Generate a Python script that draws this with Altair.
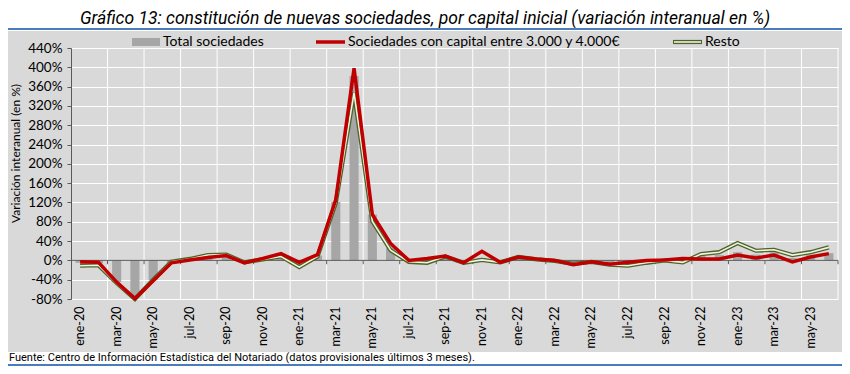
import altair as alt
import pandas as pd

# ---------------- data ----------------
meses = [
    "ene-20", "feb-20", "mar-20", "abr-20", "may-20", "jun-20", "jul-20", "ago-20", "sep-20", "oct-20", "nov-20", "dic-20",
    "ene-21", "feb-21", "mar-21", "abr-21", "may-21", "jun-21", "jul-21", "ago-21", "sep-21", "oct-21", "nov-21", "dic-21",
    "ene-22", "feb-22", "mar-22", "abr-22", "may-22", "jun-22", "jul-22", "ago-22", "sep-22", "oct-22", "nov-22", "dic-22",
    "ene-23", "feb-23", "mar-23", "abr-23", "may-23", "jun-23",
]
total = [
    -5, -6, -45, -75, -41, -5, 2, 9, 11, -5, 4, 10,
    -8, 10, 121, 382, 95, 27, -1, 0, 9, -5, 5, -4,
    7, 2, -1, -8, -3, -8, -8, -3, 0, -2, 9, 11,
    17, 12, 17, 5, 12, 15,
]
capital = [
    -3, -4, -45, -79, -42, -5, 1, 6, 10, -5, 4, 14,
    -4, 12, 126, 398, 95, 35, 0, 4, 9, -5, 19, -4,
    7, 3, 0, -9, -3, -8, -4, 0, 1, 4, 3, 3,
    11, 5, 11, -3, 7, 14,
]
resto = [
    -11, -10, -47, -80, -40, -3, 3, 11, 12, -4, 2, 8,
    -14, 8, 119, 347, 81, 21, -3, -5, 8, -5, 1, -4,
    7, 2, -1, -7, -3, -9, -11, -5, 0, -4, 13, 17,
    36, 20, 22, 11, 17, 27,
]
etiquetas_x = meses[::2]
limites_x = meses[2::2]
ticks_y = list(range(-80, 441, 40))
leyenda = ["Total sociedades", "Sociedades con capital entre 3.000 y 4.000\u20ac", "Resto"]
titulo = "Gr\u00e1fico 13: constituci\u00f3n de nuevas sociedades, por capital inicial (variaci\u00f3n interanual en %)"
fuente = "Fuente: Centro de Informaci\u00f3n Estad\u00edstica del Notariado (datos provisionales \u00faltimos 3 meses)."
titulo_y = "Variaci\u00f3n interanual (en %)"

# ---------------- layout ----------------
W, H = 767, 251
STEP = W / len(meses)
FONT = "Lato"
NARROW = "Roboto"
GRAY_BG = "#d9d9d9"
BLUE = "#4a7ebb"

df = pd.DataFrame({"mes": meses, "total": total, "capital": capital, "resto": resto})
lim = pd.DataFrame({"mes": limites_x})
uno = pd.DataFrame({"k": [0]})

xscale = alt.Scale(domain=meses, paddingInner=0.5, paddingOuter=0.25)
yscale = alt.Scale(domain=[-80, 440], nice=False, zero=False)

x_axis = alt.Axis(values=etiquetas_x, labelAngle=270, domain=False, ticks=False, grid=False,
                  labelPadding=7, labelFont=FONT, labelFontSize=12.5, labelColor="#000000", title=None)
y_axis = alt.Axis(values=ticks_y, labelExpr="datum.value + '%'", grid=True, gridColor="white", gridWidth=1,
                  gridOpacity=1, domain=True, domainColor="#595959", ticks=True, tickSize=4, tickColor="#595959",
                  labelPadding=5, labelFont=FONT, labelFontSize=13.5, labelColor="#000000",
                  title=titulo_y, titleFont=FONT, titleFontSize=12, titleFontWeight="normal", titleColor="#000000",
                  titleX=-56, titleY=105, titleAlign="center", titleBaseline="middle", titleAngle=270)


def X(field="mes:N"):
    return alt.X(field, sort=meses, scale=xscale, axis=x_axis)


def Y(field):
    return alt.Y(field, scale=yscale, axis=y_axis)


def Y0(v):
    return alt.Y(datum=v, scale=yscale, axis=y_axis)


# white bands outside the gray box
band_top = alt.Chart(uno).mark_rect(color="white").encode(
    x=alt.value(-70), x2=alt.value(W + 10), y=alt.value(-45), y2=alt.value(-17))
band_bot = alt.Chart(uno).mark_rect(color="white").encode(
    x=alt.value(-70), x2=alt.value(W + 10), y=alt.value(304), y2=alt.value(325))

title_txt = alt.Chart(uno).mark_text(font=NARROW, fontSize=17.5, fontStyle="italic", align="center",
                                     baseline="alphabetic", color="#000000").encode(
    x=alt.value(354), y=alt.value(-24), text=alt.value(titulo))
title_line = alt.Chart(uno).mark_rule(color=BLUE, strokeWidth=2).encode(
    x=alt.value(-70), x2=alt.value(W + 10), y=alt.value(-19))
foot_txt = alt.Chart(uno).mark_text(font=NARROW, fontSize=11, align="left", baseline="alphabetic",
                                    color="#000000").encode(
    x=alt.value(-62), y=alt.value(313), text=alt.value(fuente))
foot_line = alt.Chart(uno).mark_rule(color=BLUE, strokeWidth=2).encode(
    x=alt.value(-70), x2=alt.value(W + 10), y=alt.value(317))

# vertical gridlines at every 2-month boundary
vgrid = alt.Chart(lim).mark_rule(color="white", strokeWidth=1, xOffset=-STEP / 2).encode(
    x=X(), y=alt.value(0), y2=alt.value(H))
vgrid_end = alt.Chart(uno).mark_rule(color="white", strokeWidth=1).encode(
    x=alt.value(W), y=alt.value(0), y2=alt.value(H))

bars = alt.Chart(df).mark_bar(color="#a6a6a6").encode(
    x=X(), y=Y("total:Q"), y2=alt.Y2(datum=0))

zero_line = alt.Chart(uno).mark_rule(color="#595959", strokeWidth=1).encode(
    x=alt.value(0), x2=alt.value(W), y=Y0(0))
zero_ticks = alt.Chart(lim).mark_rule(color="#595959", strokeWidth=1, xOffset=-STEP / 2).encode(
    x=X(), y=Y0(0), y2=alt.Y2(datum=-8))
zero_tick_end = alt.Chart(uno).mark_rule(color="#595959", strokeWidth=1).encode(
    x=alt.value(W), y=Y0(0), y2=alt.Y2(datum=-8))

resto_outer = alt.Chart(df).mark_line(color="#4f6228", strokeWidth=4.2).encode(x=X(), y=Y("resto:Q"))
resto_inner = alt.Chart(df).mark_line(color="#eef3e2", strokeWidth=1.6).encode(x=X(), y=Y("resto:Q"))
capital_line = alt.Chart(df).mark_line(color="#c00000", strokeWidth=3.5).encode(x=X(), y=Y("capital:Q"))

# legend
LY = -6
leg_bar = alt.Chart(uno).mark_rect(color="#a6a6a6").encode(
    x=alt.value(61), x2=alt.value(89), y=alt.value(LY - 4), y2=alt.value(LY + 4))
leg_red = alt.Chart(uno).mark_rule(color="#c00000", strokeWidth=3.5).encode(
    x=alt.value(245), x2=alt.value(274), y=alt.value(LY))
leg_g1 = alt.Chart(uno).mark_rule(color="#4f6228", strokeWidth=4.2).encode(
    x=alt.value(602), x2=alt.value(631), y=alt.value(LY))
leg_g2 = alt.Chart(uno).mark_rule(color="#eef3e2", strokeWidth=1.6).encode(
    x=alt.value(603), x2=alt.value(630), y=alt.value(LY))
leg_t = [
    alt.Chart(uno).mark_text(font=FONT, fontSize=14, align="left", baseline="middle", color="#000000").encode(
        x=alt.value(xx), y=alt.value(LY), text=alt.value(t))
    for xx, t in zip([92, 277, 634], leyenda)
]

chart = alt.layer(
    band_top, band_bot, title_txt, title_line, foot_txt, foot_line,
    bars, vgrid, vgrid_end, zero_line, zero_ticks, zero_tick_end,
    resto_outer, resto_inner, capital_line,
    leg_bar, leg_red, leg_g1, leg_g2, *leg_t,
).properties(
    width=W, height=H,
    padding={"left": 63, "top": 40, "right": 4, "bottom": 67},
    autosize=alt.AutoSizeParams(type="none"),
    background=GRAY_BG,
).configure_view(strokeWidth=0)

chart.save("out.html", embed_options={"renderer": "svg", "actions": False})
